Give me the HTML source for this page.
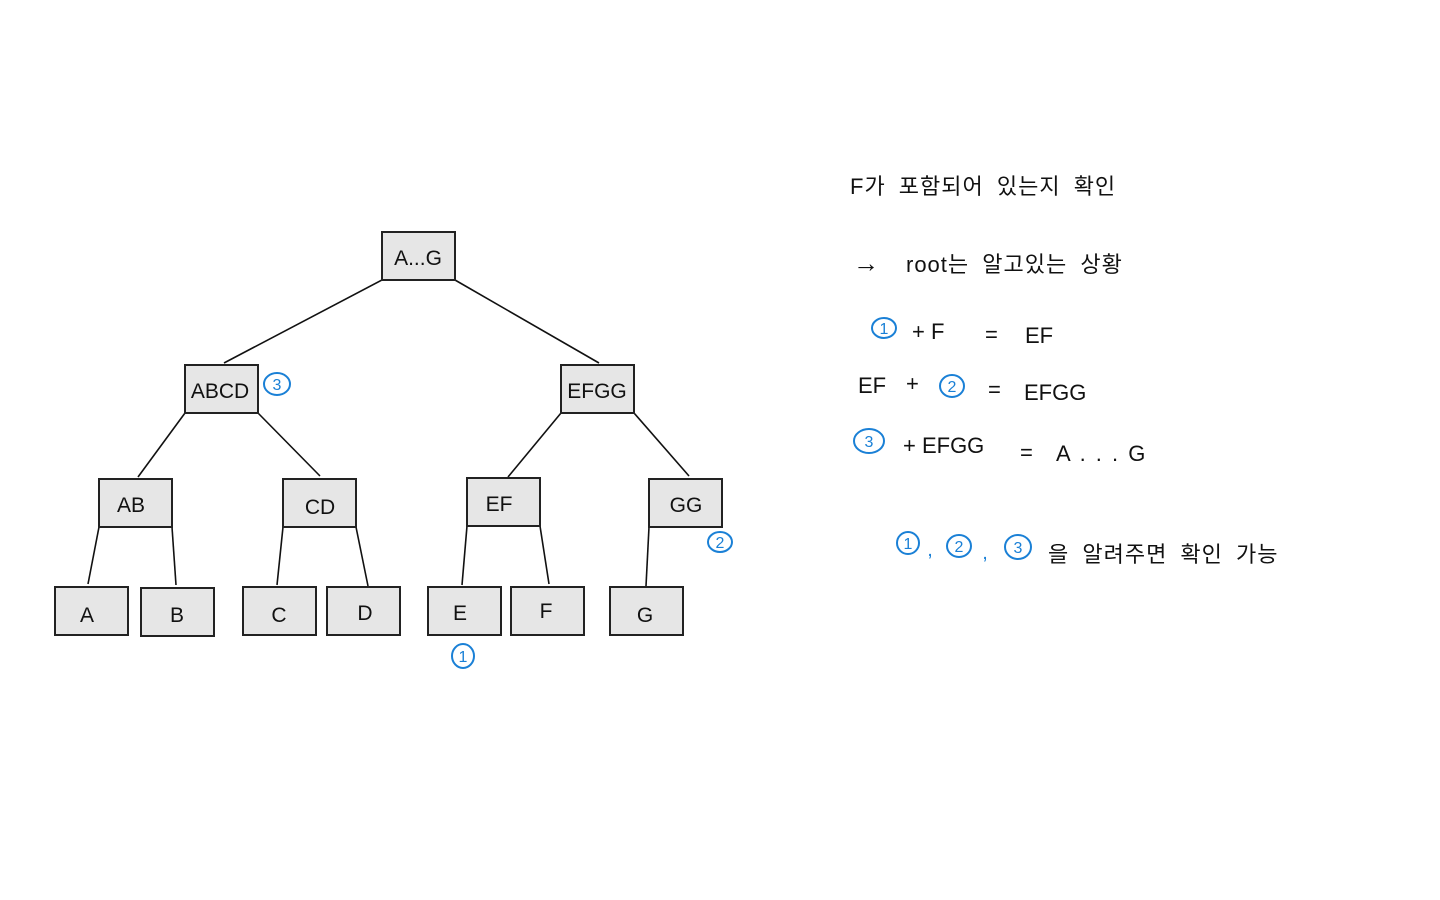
<!DOCTYPE html>
<html><head><meta charset="utf-8"><style>
body{margin:0;background:#fff;width:1440px;height:900px;overflow:hidden}
svg{display:block}
text{font-family:"Liberation Sans","Noto Sans CJK KR",sans-serif;fill:#111}
.b{fill:#1a80d6}
</style></head><body>
<svg width="1440" height="900" viewBox="0 0 1440 900">
<g stroke="#111" stroke-width="1.6" fill="none">
<line x1="382" y1="280" x2="224" y2="363"/>
<line x1="455" y1="280" x2="599" y2="363"/>
<line x1="185" y1="413" x2="138" y2="477"/>
<line x1="258" y1="413" x2="320" y2="476"/>
<line x1="561" y1="413" x2="508" y2="477"/>
<line x1="634" y1="413" x2="689" y2="476"/>
<line x1="99" y1="527" x2="88" y2="584"/>
<line x1="172" y1="527" x2="176" y2="585"/>
<line x1="283" y1="527" x2="277" y2="585"/>
<line x1="356" y1="527" x2="368" y2="586"/>
<line x1="467" y1="526" x2="462" y2="585"/>
<line x1="540" y1="526" x2="549" y2="584"/>
<line x1="649" y1="527" x2="646" y2="586"/>
</g>
<g fill="#e6e6e6" stroke="#222" stroke-width="2">
<rect x="382" y="232" width="73" height="48"/>
<rect x="185" y="365" width="73" height="48"/>
<rect x="561" y="365" width="73" height="48"/>
<rect x="99" y="479" width="73" height="48"/>
<rect x="283" y="479" width="73" height="48"/>
<rect x="467" y="478" width="73" height="48"/>
<rect x="649" y="479" width="73" height="48"/>
<rect x="55" y="587" width="73" height="48"/>
<rect x="141" y="588" width="73" height="48"/>
<rect x="243" y="587" width="73" height="48"/>
<rect x="327" y="587" width="73" height="48"/>
<rect x="428" y="587" width="73" height="48"/>
<rect x="511" y="587" width="73" height="48"/>
<rect x="610" y="587" width="73" height="48"/>
</g>
<g font-size="21" text-anchor="middle">
<text x="418" y="265">A...G</text>
<text x="220" y="398">ABCD</text>
<text x="597" y="398">EFGG</text>
<text x="131" y="512">AB</text>
<text x="320" y="514">CD</text>
<text x="499" y="511">EF</text>
<text x="686" y="512">GG</text>
<text x="87" y="622">A</text>
<text x="177" y="622">B</text>
<text x="279" y="622">C</text>
<text x="365" y="620">D</text>
<text x="460" y="620">E</text>
<text x="546" y="618">F</text>
<text x="645" y="622">G</text>
</g>
<g fill="none" stroke="#1a80d6" stroke-width="2">
<ellipse cx="277" cy="384" rx="13" ry="11"/>
<ellipse cx="720" cy="542" rx="12" ry="10"/>
<ellipse cx="463" cy="656" rx="11" ry="12"/>
<ellipse cx="884" cy="328" rx="12" ry="10"/>
<ellipse cx="952" cy="386" rx="12" ry="11"/>
<ellipse cx="869" cy="441" rx="15" ry="12"/>
<ellipse cx="908" cy="543" rx="11" ry="11"/>
<ellipse cx="959" cy="546" rx="12" ry="11"/>
<ellipse cx="1018" cy="547" rx="13" ry="12"/>
</g>
<g font-size="16" text-anchor="middle">
<text class="b" x="277" y="390">3</text>
<text class="b" x="720" y="548">2</text>
<text class="b" x="463" y="662">1</text>
<text class="b" x="884" y="334">1</text>
<text class="b" x="952" y="392">2</text>
<text class="b" x="869" y="447">3</text>
<text class="b" x="908" y="549">1</text>
<text class="b" x="959" y="552">2</text>
<text class="b" x="1018" y="553">3</text>
<text class="b" x="930" y="556" font-size="20">,</text>
<text class="b" x="985" y="559" font-size="20">,</text>
</g>
<g font-size="22">
<text x="850" y="194" word-spacing="6" letter-spacing="1">F가 포함되어 있는지 확인</text>
<text x="853" y="272" font-size="26">→</text>
<text x="906" y="272" word-spacing="6" letter-spacing="1">root는 알고있는 상황</text>
<text x="912" y="339">+ F</text>
<text x="985" y="342">=</text>
<text x="1025" y="343">EF</text>
<text x="858" y="393">EF</text>
<text x="906" y="391">+</text>
<text x="988" y="397">=</text>
<text x="1024" y="400">EFGG</text>
<text x="903" y="453">+ EFGG</text>
<text x="1020" y="460">=</text>
<text x="1056" y="461" letter-spacing="2">A . . . G</text>
<text x="1048" y="562" word-spacing="6" letter-spacing="1">을 알려주면 확인 가능</text>
</g>
</svg>
</body></html>
